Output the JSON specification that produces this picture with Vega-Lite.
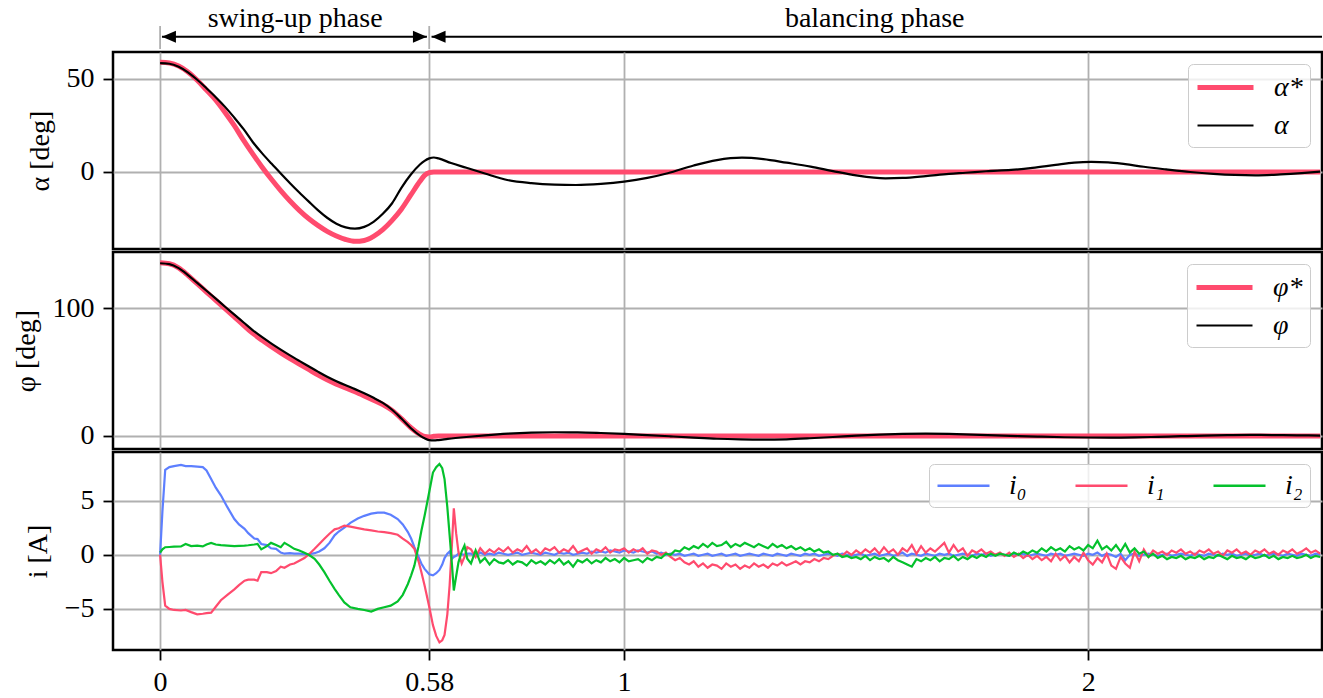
{
  "$schema": "https://vega.github.io/schema/vega-lite/v6.json",
  "background": "white",
  "padding": {"left": 10, "top": 0, "right": 2, "bottom": 0},
  "spacing": 3,
  "bounds": "flush",
  "resolve": {"scale": {"x": "independent", "y": "independent", "color": "independent", "strokeWidth": "independent"}},
  "config": {
    "font": "Liberation Serif",
    "view": {"stroke": "black", "strokeWidth": 2.5},
    "axis": {
      "gridColor": "#b0b0b0", "gridWidth": 1.8, "gridOpacity": 1,
      "labelFont": "Liberation Serif", "labelFontSize": 28, "labelColor": "black",
      "tickColor": "black", "tickSize": 10, "tickWidth": 1.8, "domain": false,
      "titleFont": "Liberation Serif", "titleFontSize": 28, "titleFontWeight": "normal", "titleColor": "black",
      "labelPadding": 9
    },
    "legend": {
      "labelFont": "Liberation Serif", "labelFontSize": 28, "labelFontStyle": "italic", "labelColor": "black",
      "strokeColor": "#cccccc", "fillColor": "rgba(255,255,255,0.8)", "cornerRadius": 5,
      "padding": 7, "rowPadding": 8, "offset": 12
    }
  },
  "datasets": {
    "alpha": [
      {"t":0,"desired":59.0,"measured":58.5},{"t":0.02,"desired":58.6,"measured":58.2},{"t":0.04,"desired":57.0,"measured":56.6},
      {"t":0.06,"desired":53.8,"measured":53.6},{"t":0.08,"desired":49.3,"measured":49.6},{"t":0.10,"desired":44.0,"measured":45.0},
      {"t":0.12,"desired":38.6,"measured":40.2},{"t":0.14,"desired":32.0,"measured":35.0},{"t":0.16,"desired":24.9,"measured":29.2},
      {"t":0.18,"desired":17.0,"measured":23.0},{"t":0.20,"desired":9.6,"measured":16.0},{"t":0.22,"desired":2.6,"measured":10.0},
      {"t":0.24,"desired":-3.9,"measured":4.5},{"t":0.26,"desired":-10.0,"measured":-0.8},{"t":0.28,"desired":-15.6,"measured":-6.0},
      {"t":0.30,"desired":-20.6,"measured":-11.0},{"t":0.32,"desired":-25.0,"measured":-15.8},{"t":0.34,"desired":-28.7,"measured":-20.5},
      {"t":0.36,"desired":-31.9,"measured":-24.6},{"t":0.38,"desired":-34.4,"measured":-27.8},{"t":0.40,"desired":-36.3,"measured":-29.8},
      {"t":0.42,"desired":-37.3,"measured":-30.5},{"t":0.44,"desired":-36.8,"measured":-29.5},{"t":0.46,"desired":-34.6,"measured":-26.8},
      {"t":0.48,"desired":-31.0,"measured":-22.5},{"t":0.50,"desired":-26.0,"measured":-16.8},{"t":0.52,"desired":-20.0,"measured":-8.5},
      {"t":0.54,"desired":-12.5,"measured":-1.5},{"t":0.56,"desired":-5.0,"measured":4.0},{"t":0.57,"desired":-1.8,"measured":6.0},
      {"t":0.58,"desired":-0.4,"measured":7.3},{"t":0.59,"desired":0,"measured":7.8},{"t":0.60,"desired":0,"measured":7.3},
      {"t":0.627,"desired":0,"measured":4.8},{"t":0.66,"desired":0,"measured":2.3},{"t":0.70,"desired":0,"measured":-0.8},
      {"t":0.748,"desired":0,"measured":-4.3},{"t":0.80,"desired":0,"measured":-6.0},{"t":0.85,"desired":0,"measured":-6.8},
      {"t":0.896,"desired":0,"measured":-7.0},{"t":0.95,"desired":0,"measured":-6.4},{"t":1.0,"desired":0,"measured":-5.2},
      {"t":1.05,"desired":0,"measured":-3.2},{"t":1.094,"desired":0,"measured":-0.7},{"t":1.15,"desired":0,"measured":3.5},
      {"t":1.20,"desired":0,"measured":6.4},{"t":1.254,"desired":0,"measured":7.7},{"t":1.30,"desired":0,"measured":6.9},
      {"t":1.35,"desired":0,"measured":5.0},{"t":1.402,"desired":0,"measured":2.9},{"t":1.45,"desired":0,"measured":0.5},
      {"t":1.50,"desired":0,"measured":-1.8},{"t":1.563,"desired":0,"measured":-3.4},{"t":1.60,"desired":0,"measured":-3.2},
      {"t":1.65,"desired":0,"measured":-2.2},{"t":1.70,"desired":0,"measured":-1.0},{"t":1.736,"desired":0,"measured":-0.4},
      {"t":1.78,"desired":0,"measured":0.4},{"t":1.834,"desired":0,"measured":1.1},{"t":1.88,"desired":0,"measured":2.2},
      {"t":1.93,"desired":0,"measured":3.8},{"t":1.97,"desired":0,"measured":5.0},{"t":2.007,"desired":0,"measured":5.4},
      {"t":2.043,"desired":0,"measured":5.2},{"t":2.08,"desired":0,"measured":4.2},{"t":2.12,"desired":0,"measured":2.8},
      {"t":2.168,"desired":0,"measured":1.4},{"t":2.22,"desired":0,"measured":0.0},{"t":2.27,"desired":0,"measured":-1.0},
      {"t":2.316,"desired":0,"measured":-1.6},{"t":2.36,"desired":0,"measured":-1.8},{"t":2.415,"desired":0,"measured":-1.3},
      {"t":2.46,"desired":0,"measured":-0.6},{"t":2.50,"desired":0,"measured":0.2}
    ],
    "phi": [
      {"t":0,"desired":135.4,"measured":135.0},{"t":0.02,"desired":134.6,"measured":134.3},{"t":0.04,"desired":131.4,"measured":131.2},
      {"t":0.06,"desired":125.6,"measured":125.8},{"t":0.08,"desired":119.0,"measured":119.6},{"t":0.10,"desired":112.5,"measured":113.5},
      {"t":0.12,"desired":106.0,"measured":107.3},{"t":0.14,"desired":99.5,"measured":101.0},{"t":0.16,"desired":93.0,"measured":94.8},
      {"t":0.18,"desired":86.5,"measured":88.7},{"t":0.20,"desired":80.2,"measured":82.6},{"t":0.22,"desired":74.8,"measured":77.2},
      {"t":0.24,"desired":69.8,"measured":72.2},{"t":0.26,"desired":65.0,"measured":67.5},{"t":0.28,"desired":60.5,"measured":63.0},
      {"t":0.30,"desired":56.2,"measured":58.7},{"t":0.32,"desired":52.0,"measured":54.5},{"t":0.34,"desired":47.8,"measured":50.3},
      {"t":0.36,"desired":43.9,"measured":46.3},{"t":0.38,"desired":40.5,"measured":42.8},{"t":0.40,"desired":37.5,"measured":39.6},
      {"t":0.42,"desired":34.5,"measured":36.6},{"t":0.44,"desired":31.3,"measured":33.3},{"t":0.46,"desired":28.0,"measured":29.8},
      {"t":0.48,"desired":24.6,"measured":25.8},{"t":0.50,"desired":20.0,"measured":20.5},{"t":0.52,"desired":13.5,"measured":13.6},
      {"t":0.54,"desired":6.6,"measured":6.2},{"t":0.56,"desired":1.2,"measured":0.3},{"t":0.57,"desired":-0.4,"measured":-1.8},
      {"t":0.58,"desired":-0.8,"measured":-3.2},{"t":0.59,"desired":-0.3,"measured":-3.5},{"t":0.60,"desired":0,"measured":-3.2},
      {"t":0.62,"desired":0,"measured":-2.3},{"t":0.66,"desired":0,"measured":-0.8},{"t":0.70,"desired":0,"measured":0.5},
      {"t":0.75,"desired":0,"measured":1.8},{"t":0.80,"desired":0,"measured":2.6},{"t":0.85,"desired":0,"measured":2.9},
      {"t":0.90,"desired":0,"measured":2.8},{"t":0.95,"desired":0,"measured":2.3},{"t":1.00,"desired":0,"measured":1.6},
      {"t":1.05,"desired":0,"measured":0.7},{"t":1.10,"desired":0,"measured":-0.3},{"t":1.15,"desired":0,"measured":-1.3},
      {"t":1.20,"desired":0,"measured":-2.2},{"t":1.25,"desired":0,"measured":-2.7},{"t":1.30,"desired":0,"measured":-2.9},
      {"t":1.35,"desired":0,"measured":-2.6},{"t":1.40,"desired":0,"measured":-1.8},{"t":1.45,"desired":0,"measured":-0.8},
      {"t":1.50,"desired":0,"measured":0.3},{"t":1.55,"desired":0,"measured":1.1},{"t":1.60,"desired":0,"measured":1.6},
      {"t":1.65,"desired":0,"measured":1.8},{"t":1.70,"desired":0,"measured":1.6},{"t":1.75,"desired":0,"measured":1.1},
      {"t":1.80,"desired":0,"measured":0.5},{"t":1.85,"desired":0,"measured":-0.1},{"t":1.90,"desired":0,"measured":-0.6},
      {"t":1.95,"desired":0,"measured":-1.0},{"t":2.00,"desired":0,"measured":-1.2},{"t":2.05,"desired":0,"measured":-1.3},
      {"t":2.10,"desired":0,"measured":-1.1},{"t":2.15,"desired":0,"measured":-0.7},{"t":2.20,"desired":0,"measured":-0.2},
      {"t":2.25,"desired":0,"measured":0.3},{"t":2.30,"desired":0,"measured":0.6},{"t":2.35,"desired":0,"measured":0.8},
      {"t":2.40,"desired":0,"measured":0.7},{"t":2.45,"desired":0,"measured":0.5},{"t":2.50,"desired":0,"measured":0.3}
    ],
    "cur": [
      {"t":0,"i0":0,"i1":0,"i2":0.2},{"t":0.005,"i0":4.0,"i1":-2.5,"i2":0.5},{"t":0.011,"i0":7.84,"i1":-4.7,"i2":0.7},
      {"t":0.02,"i0":8.1,"i1":-5.0,"i2":0.72},{"t":0.03,"i0":8.2,"i1":-5.1,"i2":0.75},{"t":0.045,"i0":8.3,"i1":-5.15,"i2":0.77},
      {"t":0.055,"i0":8.2,"i1":-5.1,"i2":1.0},{"t":0.067,"i0":8.2,"i1":-5.3,"i2":0.8},{"t":0.08,"i0":8.15,"i1":-5.5,"i2":0.85},
      {"t":0.092,"i0":8.1,"i1":-5.45,"i2":0.77},{"t":0.10,"i0":7.8,"i1":-5.4,"i2":0.95},{"t":0.11,"i0":7.0,"i1":-5.35,"i2":1.1},
      {"t":0.12,"i0":6.2,"i1":-4.8,"i2":0.95},{"t":0.131,"i0":5.5,"i1":-4.2,"i2":0.9},{"t":0.145,"i0":4.4,"i1":-3.7,"i2":0.85},
      {"t":0.16,"i0":3.3,"i1":-3.2,"i2":0.8},{"t":0.17,"i0":2.8,"i1":-2.8,"i2":0.82},{"t":0.182,"i0":2.4,"i1":-2.4,"i2":0.85},
      {"t":0.19,"i0":2.0,"i1":-2.3,"i2":0.88},{"t":0.203,"i0":1.5,"i1":-2.3,"i2":0.95},{"t":0.21,"i0":1.45,"i1":-2.4,"i2":1.0},
      {"t":0.218,"i0":1.0,"i1":-1.6,"i2":0.5},{"t":0.23,"i0":0.9,"i1":-1.6,"i2":0.8},{"t":0.239,"i0":0.6,"i1":-1.7,"i2":1.1},
      {"t":0.25,"i0":0.55,"i1":-1.5,"i2":0.9},{"t":0.26,"i0":0.2,"i1":-1.1,"i2":0.7},{"t":0.268,"i0":0.1,"i1":-1.2,"i2":1.1},
      {"t":0.28,"i0":0.15,"i1":-0.9,"i2":0.8},{"t":0.289,"i0":0.1,"i1":-0.8,"i2":0.55},{"t":0.30,"i0":0.1,"i1":-0.55,"i2":0.4},
      {"t":0.311,"i0":0.05,"i1":-0.3,"i2":0.18},{"t":0.322,"i0":0.05,"i1":0.1,"i2":-0.05},{"t":0.333,"i0":0.15,"i1":0.55,"i2":-0.37},
      {"t":0.343,"i0":0.3,"i1":1.0,"i2":-0.9},{"t":0.354,"i0":0.6,"i1":1.48,"i2":-1.6},{"t":0.365,"i0":1.1,"i1":1.95,"i2":-2.4},
      {"t":0.376,"i0":1.8,"i1":2.35,"i2":-3.15},{"t":0.385,"i0":2.15,"i1":2.45,"i2":-3.7},{"t":0.397,"i0":2.5,"i1":2.7,"i2":-4.4},
      {"t":0.41,"i0":2.95,"i1":2.6,"i2":-4.85},{"t":0.426,"i0":3.35,"i1":2.47,"i2":-5.0},{"t":0.44,"i0":3.6,"i1":2.35,"i2":-5.1},
      {"t":0.455,"i0":3.8,"i1":2.25,"i2":-5.25},{"t":0.469,"i0":3.9,"i1":2.15,"i2":-5.0},{"t":0.483,"i0":3.9,"i1":2.1,"i2":-4.85},
      {"t":0.497,"i0":3.7,"i1":2.0,"i2":-4.7},{"t":0.512,"i0":3.3,"i1":1.85,"i2":-4.3},{"t":0.523,"i0":2.8,"i1":1.5,"i2":-3.7},
      {"t":0.534,"i0":2.1,"i1":1.17,"i2":-2.7},{"t":0.541,"i0":1.5,"i1":0.9,"i2":-1.9},{"t":0.548,"i0":0.7,"i1":0.55,"i2":-1.0},
      {"t":0.557,"i0":-0.2,"i1":-0.6,"i2":0.8},{"t":0.563,"i0":-0.8,"i1":-1.6,"i2":2.2},{"t":0.57,"i0":-1.3,"i1":-2.84,"i2":3.6},
      {"t":0.58,"i0":-1.8,"i1":-4.8,"i2":5.8},{"t":0.588,"i0":-1.9,"i1":-6.5,"i2":7.6},{"t":0.595,"i0":-1.7,"i1":-7.5,"i2":8.1},
      {"t":0.602,"i0":-1.4,"i1":-8.1,"i2":8.4},{"t":0.608,"i0":-0.9,"i1":-7.9,"i2":8.0},{"t":0.613,"i0":-0.3,"i1":-7.4,"i2":7.0},
      {"t":0.619,"i0":0.1,"i1":-5.5,"i2":4.4},{"t":0.624,"i0":0.3,"i1":-2.8,"i2":1.8},{"t":0.629,"i0":-0.37,"i1":1.0,"i2":-0.9},
      {"t":0.633,"i0":-0.2,"i1":4.3,"i2":-3.3},{"t":0.638,"i0":-0.1,"i1":2.0,"i2":-2.0},{"t":0.643,"i0":0.1,"i1":0.25,"i2":-0.7},
      {"t":0.65,"i0":0.05,"i1":-0.8,"i2":0.3},{"t":0.656,"i0":0.0,"i1":-0.2,"i2":0.86},{"t":0.662,"i0":0.1,"i1":0.7,"i2":-0.37},
      {"t":0.67,"i0":0.1,"i1":0.5,"i2":-0.8},{"t":0.68,"i0":-0.1,"i1":-0.2,"i2":0.4},{"t":0.69,"i0":0.2,"i1":0.6,"i2":-0.7},
      {"t":0.70,"i0":0.0,"i1":0.1,"i2":-0.3},{"t":0.71,"i0":0.1,"i1":0.5,"i2":-0.9},{"t":0.72,"i0":0.0,"i1":0.2,"i2":-0.4},
      {"t":0.73,"i0":0.2,"i1":0.6,"i2":-0.7},{"t":0.74,"i0":0.1,"i1":0.3,"i2":-0.8},{"t":0.75,"i0":0.0,"i1":0.7,"i2":-0.5},
      {"t":0.76,"i0":0.1,"i1":0.2,"i2":-0.9},{"t":0.77,"i0":0.2,"i1":0.5,"i2":-0.6},{"t":0.78,"i0":0.0,"i1":0.3,"i2":-0.7},
      {"t":0.79,"i0":0.1,"i1":0.8,"i2":-1.0},{"t":0.80,"i0":0.2,"i1":0.2,"i2":-0.5},{"t":0.81,"i0":0.1,"i1":0.5,"i2":-0.8},
      {"t":0.82,"i0":0.0,"i1":0.1,"i2":-0.6},{"t":0.83,"i0":0.2,"i1":0.6,"i2":-0.9},{"t":0.84,"i0":0.1,"i1":0.4,"i2":-0.5},
      {"t":0.85,"i0":0.0,"i1":0.7,"i2":-0.8},{"t":0.86,"i0":0.2,"i1":0.2,"i2":-0.4},{"t":0.87,"i0":0.1,"i1":0.5,"i2":-0.9},
      {"t":0.88,"i0":0.2,"i1":0.3,"i2":-0.6},{"t":0.89,"i0":0.0,"i1":0.8,"i2":-1.1},{"t":0.90,"i0":0.1,"i1":0.2,"i2":-0.5},
      {"t":0.91,"i0":0.2,"i1":0.4,"i2":-0.7},{"t":0.92,"i0":0.1,"i1":0.6,"i2":-0.4},{"t":0.93,"i0":0.3,"i1":0.1,"i2":-0.8},
      {"t":0.94,"i0":0.2,"i1":0.5,"i2":-0.5},{"t":0.95,"i0":0.3,"i1":0.3,"i2":-0.7},{"t":0.96,"i0":0.2,"i1":0.7,"i2":-0.3},
      {"t":0.97,"i0":0.4,"i1":0.2,"i2":-0.6},{"t":0.98,"i0":0.3,"i1":0.5,"i2":-0.4},{"t":0.99,"i0":0.2,"i1":0.4,"i2":-0.7},
      {"t":1.00,"i0":0.4,"i1":0.6,"i2":-0.3},{"t":1.01,"i0":0.3,"i1":0.2,"i2":-0.6},{"t":1.02,"i0":0.2,"i1":0.5,"i2":-0.5},
      {"t":1.03,"i0":0.4,"i1":0.3,"i2":-0.4},{"t":1.04,"i0":0.3,"i1":0.6,"i2":-0.7},{"t":1.05,"i0":0.2,"i1":0.1,"i2":-0.3},
      {"t":1.06,"i0":0.3,"i1":0.4,"i2":-0.5},{"t":1.07,"i0":0.1,"i1":0.3,"i2":-0.2},{"t":1.08,"i0":0.2,"i1":0.0,"i2":-0.3},
      {"t":1.09,"i0":0.0,"i1":0.2,"i2":0.1},{"t":1.10,"i0":0.1,"i1":-0.2,"i2":0.0},{"t":1.11,"i0":0.0,"i1":-0.5,"i2":0.4},
      {"t":1.12,"i0":0.1,"i1":-0.3,"i2":0.3},{"t":1.13,"i0":-0.1,"i1":-0.7,"i2":0.7},{"t":1.14,"i0":0.0,"i1":-0.9,"i2":0.5},
      {"t":1.15,"i0":0.1,"i1":-0.6,"i2":0.8},{"t":1.16,"i0":-0.1,"i1":-1.1,"i2":0.6},{"t":1.17,"i0":0.0,"i1":-0.8,"i2":1.0},
      {"t":1.18,"i0":0.1,"i1":-1.2,"i2":0.7},{"t":1.19,"i0":-0.1,"i1":-0.9,"i2":1.1},{"t":1.20,"i0":0.0,"i1":-1.0,"i2":0.8},
      {"t":1.21,"i0":0.1,"i1":-1.3,"i2":0.9},{"t":1.22,"i0":-0.1,"i1":-0.8,"i2":1.2},{"t":1.23,"i0":0.0,"i1":-1.1,"i2":0.7},
      {"t":1.24,"i0":0.1,"i1":-0.9,"i2":1.0},{"t":1.25,"i0":-0.1,"i1":-1.3,"i2":0.8},{"t":1.26,"i0":0.0,"i1":-1.0,"i2":1.1},
      {"t":1.27,"i0":0.1,"i1":-1.2,"i2":0.9},{"t":1.28,"i0":0.0,"i1":-0.8,"i2":0.7},{"t":1.29,"i0":-0.1,"i1":-1.1,"i2":1.0},
      {"t":1.30,"i0":0.1,"i1":-0.9,"i2":0.8},{"t":1.31,"i0":0.0,"i1":-1.2,"i2":0.6},{"t":1.32,"i0":-0.1,"i1":-0.8,"i2":1.0},
      {"t":1.33,"i0":0.1,"i1":-1.0,"i2":0.7},{"t":1.34,"i0":0.0,"i1":-0.7,"i2":0.9},{"t":1.35,"i0":-0.1,"i1":-1.0,"i2":0.6},
      {"t":1.36,"i0":0.1,"i1":-0.8,"i2":0.8},{"t":1.37,"i0":0.0,"i1":-0.6,"i2":0.5},{"t":1.38,"i0":-0.1,"i1":-0.9,"i2":0.7},
      {"t":1.39,"i0":0.1,"i1":-0.6,"i2":0.4},{"t":1.40,"i0":0.0,"i1":-0.7,"i2":0.6},{"t":1.41,"i0":0.1,"i1":-0.4,"i2":0.3},
      {"t":1.42,"i0":-0.1,"i1":-0.6,"i2":0.5},{"t":1.43,"i0":0.0,"i1":-0.3,"i2":0.2},{"t":1.44,"i0":0.1,"i1":-0.4,"i2":0.3},
      {"t":1.45,"i0":0.0,"i1":-0.1,"i2":0.0},{"t":1.46,"i0":-0.1,"i1":0.1,"i2":0.1},{"t":1.47,"i0":0.1,"i1":-0.1,"i2":-0.2},
      {"t":1.48,"i0":0.0,"i1":0.3,"i2":-0.1},{"t":1.49,"i0":-0.1,"i1":0.0,"i2":-0.3},{"t":1.50,"i0":0.0,"i1":0.4,"i2":-0.2},
      {"t":1.51,"i0":0.1,"i1":0.1,"i2":-0.4},{"t":1.52,"i0":-0.1,"i1":0.5,"i2":-0.1},{"t":1.53,"i0":0.0,"i1":0.2,"i2":-0.5},
      {"t":1.54,"i0":0.1,"i1":0.6,"i2":-0.2},{"t":1.55,"i0":-0.1,"i1":0.1,"i2":-0.4},{"t":1.56,"i0":0.0,"i1":0.7,"i2":-0.3},
      {"t":1.57,"i0":0.1,"i1":0.2,"i2":-0.6},{"t":1.58,"i0":-0.1,"i1":0.5,"i2":-0.2},{"t":1.59,"i0":0.0,"i1":0.0,"i2":-0.5},
      {"t":1.60,"i0":0.2,"i1":0.6,"i2":-0.7},{"t":1.61,"i0":-0.1,"i1":0.3,"i2":-0.9},{"t":1.62,"i0":0.1,"i1":0.9,"i2":-1.1},
      {"t":1.63,"i0":0.0,"i1":0.1,"i2":-0.4},{"t":1.64,"i0":-0.1,"i1":0.8,"i2":-0.6},{"t":1.65,"i0":0.1,"i1":0.2,"i2":-0.3},
      {"t":1.66,"i0":0.0,"i1":0.6,"i2":-0.5},{"t":1.67,"i0":-0.1,"i1":0.3,"i2":-0.2},{"t":1.68,"i0":0.1,"i1":0.7,"i2":-0.6},
      {"t":1.69,"i0":0.0,"i1":1.1,"i2":-0.3},{"t":1.70,"i0":0.1,"i1":0.2,"i2":-0.4},{"t":1.71,"i0":-0.1,"i1":0.9,"i2":-0.1},
      {"t":1.72,"i0":0.0,"i1":0.3,"i2":-0.5},{"t":1.73,"i0":0.1,"i1":0.6,"i2":-0.2},{"t":1.74,"i0":0.0,"i1":-0.1,"i2":-0.4},
      {"t":1.75,"i0":-0.1,"i1":0.4,"i2":-0.1},{"t":1.76,"i0":0.1,"i1":0.2,"i2":-0.3},{"t":1.77,"i0":0.0,"i1":0.5,"i2":0.0},
      {"t":1.78,"i0":0.1,"i1":0.1,"i2":-0.2},{"t":1.79,"i0":-0.1,"i1":0.3,"i2":0.1},{"t":1.80,"i0":0.0,"i1":0.0,"i2":-0.1},
      {"t":1.81,"i0":0.1,"i1":0.2,"i2":0.1},{"t":1.82,"i0":0.0,"i1":-0.1,"i2":0.0},{"t":1.83,"i0":-0.1,"i1":0.2,"i2":-0.1},
      {"t":1.84,"i0":0.1,"i1":-0.2,"i2":0.2},{"t":1.85,"i0":0.0,"i1":0.1,"i2":0.0},{"t":1.86,"i0":0.1,"i1":-0.3,"i2":0.3},
      {"t":1.87,"i0":-0.1,"i1":0.0,"i2":0.1},{"t":1.88,"i0":0.0,"i1":-0.4,"i2":0.4},{"t":1.89,"i0":0.1,"i1":-0.1,"i2":0.2},
      {"t":1.90,"i0":0.0,"i1":-0.5,"i2":0.6},{"t":1.91,"i0":-0.1,"i1":-0.2,"i2":0.3},{"t":1.92,"i0":0.1,"i1":-0.6,"i2":0.7},
      {"t":1.93,"i0":0.0,"i1":0.1,"i2":0.4},{"t":1.94,"i0":0.1,"i1":-0.5,"i2":0.6},{"t":1.95,"i0":-0.1,"i1":-0.1,"i2":0.3},
      {"t":1.96,"i0":0.0,"i1":-0.7,"i2":0.8},{"t":1.97,"i0":0.1,"i1":-0.2,"i2":0.5},{"t":1.98,"i0":0.0,"i1":-0.6,"i2":0.7},
      {"t":1.99,"i0":-0.1,"i1":0.2,"i2":0.4},{"t":2.00,"i0":0.1,"i1":-0.5,"i2":0.9},{"t":2.01,"i0":0.0,"i1":-0.9,"i2":0.6},
      {"t":2.02,"i0":0.2,"i1":-0.3,"i2":1.3},{"t":2.03,"i0":-0.1,"i1":-0.7,"i2":0.5},{"t":2.04,"i0":0.1,"i1":0.1,"i2":0.8},
      {"t":2.05,"i0":0.0,"i1":-1.0,"i2":0.4},{"t":2.06,"i0":-0.2,"i1":-1.3,"i2":0.9},{"t":2.07,"i0":0.1,"i1":-0.2,"i2":0.3},
      {"t":2.08,"i0":-0.5,"i1":-0.8,"i2":1.0},{"t":2.09,"i0":0.0,"i1":-1.2,"i2":0.2},{"t":2.10,"i0":0.1,"i1":0.3,"i2":0.6},
      {"t":2.11,"i0":-0.1,"i1":-0.6,"i2":0.1},{"t":2.12,"i0":0.0,"i1":0.5,"i2":0.3},{"t":2.13,"i0":0.1,"i1":-0.2,"i2":-0.2},
      {"t":2.14,"i0":0.0,"i1":0.4,"i2":0.1},{"t":2.15,"i0":-0.1,"i1":0.1,"i2":-0.3},{"t":2.16,"i0":0.0,"i1":0.3,"i2":-0.1},
      {"t":2.17,"i0":0.1,"i1":0.0,"i2":-0.4},{"t":2.18,"i0":-0.1,"i1":0.4,"i2":-0.2},{"t":2.19,"i0":0.0,"i1":0.2,"i2":-0.3},
      {"t":2.20,"i0":0.1,"i1":0.5,"i2":-0.1},{"t":2.21,"i0":0.0,"i1":0.1,"i2":-0.4},{"t":2.22,"i0":-0.1,"i1":0.3,"i2":-0.2},
      {"t":2.23,"i0":0.1,"i1":0.0,"i2":-0.3},{"t":2.24,"i0":0.0,"i1":0.4,"i2":-0.1},{"t":2.25,"i0":-0.1,"i1":0.2,"i2":-0.4},
      {"t":2.26,"i0":0.1,"i1":0.5,"i2":-0.2},{"t":2.27,"i0":0.0,"i1":0.1,"i2":-0.3},{"t":2.28,"i0":-0.1,"i1":0.3,"i2":0.0},
      {"t":2.29,"i0":0.1,"i1":-0.1,"i2":-0.2},{"t":2.30,"i0":0.0,"i1":0.4,"i2":-0.4},{"t":2.31,"i0":0.1,"i1":0.2,"i2":-0.1},
      {"t":2.32,"i0":-0.1,"i1":0.5,"i2":-0.3},{"t":2.33,"i0":0.0,"i1":0.1,"i2":-0.2},{"t":2.34,"i0":0.1,"i1":0.3,"i2":-0.4},
      {"t":2.35,"i0":-0.1,"i1":0.0,"i2":-0.1},{"t":2.36,"i0":0.0,"i1":0.4,"i2":-0.3},{"t":2.37,"i0":0.1,"i1":0.2,"i2":-0.2},
      {"t":2.38,"i0":-0.1,"i1":0.5,"i2":0.0},{"t":2.39,"i0":0.0,"i1":0.1,"i2":-0.3},{"t":2.40,"i0":0.1,"i1":0.3,"i2":-0.1},
      {"t":2.41,"i0":0.0,"i1":0.0,"i2":-0.4},{"t":2.42,"i0":-0.1,"i1":0.4,"i2":-0.2},{"t":2.43,"i0":0.1,"i1":0.2,"i2":-0.3},
      {"t":2.44,"i0":0.0,"i1":0.5,"i2":-0.1},{"t":2.45,"i0":-0.1,"i1":0.1,"i2":-0.3},{"t":2.46,"i0":0.1,"i1":0.3,"i2":-0.2},
      {"t":2.47,"i0":0.0,"i1":0.6,"i2":0.0},{"t":2.48,"i0":-0.1,"i1":0.2,"i2":-0.3},{"t":2.49,"i0":0.1,"i1":0.4,"i2":-0.1},
      {"t":2.50,"i0":0.0,"i1":0.1,"i2":-0.2}
    ],
    "phaseBounds": [{"t":0},{"t":0.58}],
    "arrows": [{"start":0.004,"end":0.575,"phase":"swing-up"},{"start":0.585,"end":2.504,"phase":"balancing"}],
    "heads": [{"t":0.004,"dir":"left"},{"t":0.575,"dir":"right"},{"t":0.585,"dir":"left"}],
    "phaseLabels": [{"t":0.291,"label":"swing-up phase"},{"t":1.54,"label":"balancing phase"}]
  },
  "vconcat": [
    {
      "width": 1209, "height": 49,
      "view": {"stroke": null},
      "layer": [
        {
          "data": {"name": "phaseBounds"},
          "mark": {"type": "rule", "color": "#b0b0b0", "strokeWidth": 1.8},
          "encoding": {
            "x": {"field": "t", "type": "quantitative", "scale": {"domain": [-0.1015, 2.504], "nice": false, "zero": false}, "axis": null},
            "y": {"datum": 0.47, "type": "quantitative", "scale": {"domain": [0, 1], "nice": false, "zero": false}, "axis": null},
            "y2": {"datum": 0}
          }
        },
        {
          "data": {"name": "arrows"},
          "mark": {"type": "rule", "color": "black", "strokeWidth": 1.8},
          "encoding": {
            "x": {"field": "start", "type": "quantitative"},
            "x2": {"field": "end"},
            "y": {"datum": 0.25, "type": "quantitative"}
          }
        },
        {
          "data": {"name": "heads"},
          "mark": {"type": "point", "filled": true, "color": "black", "opacity": 1, "size": 196, "strokeWidth": 0},
          "encoding": {
            "x": {"field": "t", "type": "quantitative"},
            "y": {"datum": 0.25, "type": "quantitative"},
            "shape": {"field": "dir", "type": "nominal", "scale": {"domain": ["left", "right"], "range": ["M0,0L2,-0.85L2,0.85Z", "M0,0L-2,-0.85L-2,0.85Z"]}, "legend": null}
          }
        },
        {
          "data": {"name": "phaseLabels"},
          "mark": {"type": "text", "font": "Liberation Serif", "fontSize": 28, "color": "black", "baseline": "alphabetic", "align": "center"},
          "encoding": {
            "x": {"field": "t", "type": "quantitative"},
            "y": {"datum": 0.45, "type": "quantitative"},
            "text": {"field": "label"}
          }
        }
      ]
    },
    {
      "width": 1209, "height": 197,
      "data": {"name": "alpha"},
      "transform": [{"fold": ["desired", "measured"], "as": ["series", "value"]}],
      "mark": {"type": "line", "interpolate": "monotone", "clip": true},
      "encoding": {
        "x": {"field": "t", "type": "quantitative", "scale": {"domain": [-0.1015, 2.504], "nice": false, "zero": false},
              "axis": {"values": [0, 0.58, 1, 2], "labels": false, "ticks": false, "title": null, "grid": true}},
        "y": {"field": "value", "type": "quantitative", "scale": {"domain": [-41.4, 64.5], "nice": false, "zero": false},
              "axis": {"values": [0, 50], "title": "α [deg]", "grid": true, "titlePadding": 12}},
        "color": {"field": "series", "type": "nominal", "scale": {"domain": ["desired", "measured"], "range": ["#ff4b6e", "#000000"]},
                  "legend": {"title": null, "orient": "top-right", "symbolType": "M-1,0H3", "symbolSize": 784, "labelOffset": 46, "labelExpr": "datum.label == 'desired' ? 'α*' : 'α'"}},
        "strokeWidth": {"field": "series", "type": "nominal", "scale": {"domain": ["desired", "measured"], "range": [5, 2.2]},
                  "legend": {"title": null, "orient": "top-right", "symbolType": "M-1,0H3", "symbolSize": 784, "labelOffset": 46, "labelExpr": "datum.label == 'desired' ? 'α*' : 'α'"}}
      }
    },
    {
      "width": 1209, "height": 197,
      "data": {"name": "phi"},
      "transform": [{"fold": ["desired", "measured"], "as": ["series", "value"]}],
      "mark": {"type": "line", "interpolate": "monotone", "clip": true},
      "encoding": {
        "x": {"field": "t", "type": "quantitative", "scale": {"domain": [-0.1015, 2.504], "nice": false, "zero": false},
              "axis": {"values": [0, 0.58, 1, 2], "labels": false, "ticks": false, "title": null, "grid": true}},
        "y": {"field": "value", "type": "quantitative", "scale": {"domain": [-10.2, 143.8], "nice": false, "zero": false},
              "axis": {"values": [0, 100], "title": "φ [deg]", "grid": true, "titlePadding": 12}},
        "color": {"field": "series", "type": "nominal", "scale": {"domain": ["desired", "measured"], "range": ["#ff4b6e", "#000000"]},
                  "legend": {"title": null, "orient": "top-right", "symbolType": "M-1,0H3", "symbolSize": 784, "labelOffset": 46, "labelExpr": "datum.label == 'desired' ? 'φ*' : 'φ'"}},
        "strokeWidth": {"field": "series", "type": "nominal", "scale": {"domain": ["desired", "measured"], "range": [5, 2.2]},
                  "legend": {"title": null, "orient": "top-right", "symbolType": "M-1,0H3", "symbolSize": 784, "labelOffset": 46, "labelExpr": "datum.label == 'desired' ? 'φ*' : 'φ'"}}
      }
    },
    {
      "width": 1209, "height": 198,
      "data": {"name": "cur"},
      "transform": [{"fold": ["i0", "i1", "i2"], "as": ["phase", "current"]}],
      "mark": {"type": "line", "strokeWidth": 2.2, "clip": true},
      "encoding": {
        "x": {"field": "t", "type": "quantitative", "scale": {"domain": [-0.1015, 2.504], "nice": false, "zero": false},
              "axis": {"values": [0, 0.58, 1, 2], "format": "~g", "title": null, "grid": true, "labelPadding": 8}},
        "y": {"field": "current", "type": "quantitative", "scale": {"domain": [-8.8, 9.5], "nice": false, "zero": false},
              "axis": {"values": [-5, 0, 5], "title": "i [A]", "grid": true, "titlePadding": 12}},
        "color": {"field": "phase", "type": "nominal", "scale": {"domain": ["i0", "i1", "i2"], "range": ["#5d7fff", "#ff4b6e", "#04c12c"]},
                  "legend": {"title": null, "orient": "top-right", "direction": "horizontal", "columns": 3, "columnPadding": 43,
                             "symbolType": "M-1,0H3", "symbolSize": 676, "symbolStrokeWidth": 2.5, "labelOffset": 44,
                             "labelExpr": "datum.label == 'i0' ? 'i₀' : datum.label == 'i1' ? 'i₁' : 'i₂'"}}
      }
    }
  ]
}
